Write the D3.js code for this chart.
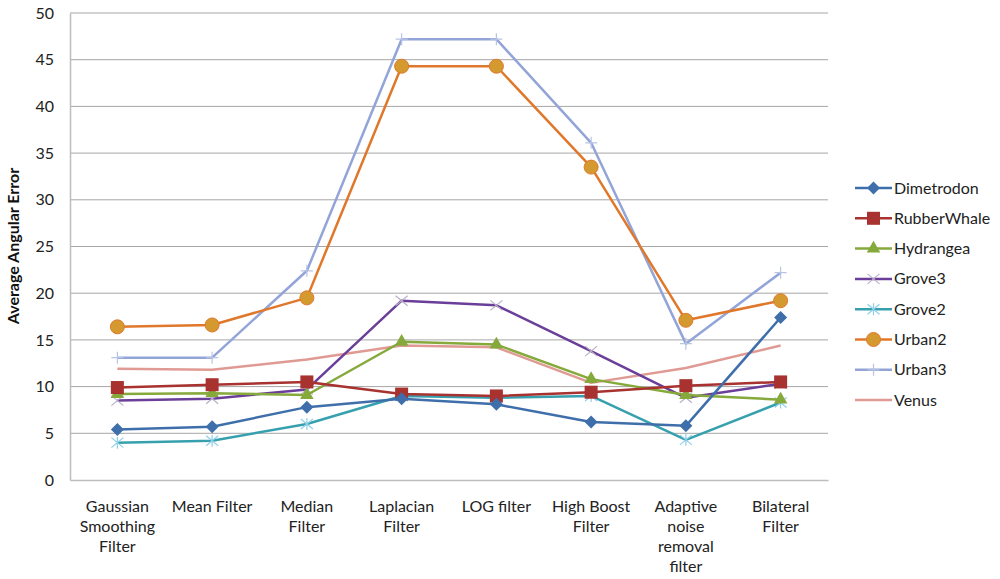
<!DOCTYPE html>
<html>
<head>
<meta charset="utf-8">
<script src="https://cdn.jsdelivr.net/npm/d3@7"></script>
<style>
  body { margin: 0; background: #fff; }
  svg { font-family: Lato, "Open Sans", sans-serif; }
</style>
</head>
<body>
<div id="chart"></div>
<script>
// Categorías del eje X (filtros)
const categories = ["Gaussian Smoothing Filter", "Mean Filter", "Median Filter", "Laplacian Filter",
  "LOG filter", "High Boost Filter", "Adaptive noise removal filter", "Bilateral Filter"];

// Líneas de texto de cada etiqueta del eje X
const categoryLines = [
  ["Gaussian", "Smoothing", "Filter"],
  ["Mean Filter"],
  ["Median", "Filter"],
  ["Laplacian", "Filter"],
  ["LOG filter"],
  ["High Boost", "Filter"],
  ["Adaptive", "noise", "removal", "filter"],
  ["Bilateral", "Filter"]
];

const seriesNames = ["Dimetrodon", "RubberWhale", "Hydrangea", "Grove3", "Grove2", "Urban2", "Urban3", "Venus"];

// Valores
const dimetrodon  = [5.4, 5.7, 7.8, 8.7, 8.1, 6.2, 5.8, 17.4];
const rubberWhale = [9.9, 10.2, 10.5, 9.2, 9.0, 9.4, 10.1, 10.5];
const hydrangea   = [9.2, 9.3, 9.1, 14.8, 14.5, 10.8, 9.1, 8.6];
const grove3      = [8.5, 8.7, 9.7, 19.2, 18.7, 13.8, 8.8, 10.3];
const grove2      = [4.0, 4.2, 6.0, 9.0, 8.8, 9.0, 4.3, 8.3];
const urban2      = [16.4, 16.6, 19.5, 44.3, 44.3, 33.5, 17.1, 19.2];
const urban3      = [13.1, 13.1, 22.4, 47.2, 47.2, 36.1, 14.6, 22.2];
const venus       = [11.9, 11.8, 12.9, 14.4, 14.2, 10.4, 12.0, 14.4];

const yTicks = [0, 5, 10, 15, 20, 25, 30, 35, 40, 45, 50];

// Estilo de cada serie
const styles = [
  { color: "#3F6FAA", marker: "diamond", mfill: "#3F6FAA" },
  { color: "#A8322F", marker: "square", mfill: "#A8322F" },
  { color: "#86A93C", marker: "triangle", mfill: "#86A93C" },
  { color: "#6A3E99", marker: "x", mfill: "#B8B0C8" },
  { color: "#36A0AE", marker: "star", mfill: "#8FD0E8" },
  { color: "#E0782C", marker: "circle", mfill: "#D49A30" },
  { color: "#93A5D8", marker: "plus", mfill: "#B7C4E4" },
  { color: "#E09A94", marker: "none", mfill: "#E09A94" }
];

const seriesValues = [dimetrodon, rubberWhale, hydrangea, grove3, grove2, urban2, urban3, venus];
const series = seriesNames.map((name, i) => ({ name, values: seriesValues[i], style: styles[i] }));

const W = 1000, H = 579;
const plotLeft = 70, plotRight = 828, plotTop = 13, plotBottom = 480;

const svg = d3.select("#chart").append("svg")
  .attr("width", W).attr("height", H);

const x = d3.scaleBand().domain(categories).range([plotLeft, plotRight]);
const y = d3.scaleLinear().domain([0, 50]).range([plotBottom, plotTop]);
const cx = c => x(c) + x.bandwidth() / 2;

// Líneas de la cuadrícula
svg.append("g")
  .selectAll("line")
  .data(yTicks.filter(t => t > 0))
  .enter().append("line")
  .attr("x1", plotLeft).attr("x2", plotRight)
  .attr("y1", d => y(d)).attr("y2", d => y(d))
  .attr("stroke", "#A6A6A6").attr("stroke-width", 1);

// Eje Y
const yAxis = svg.append("g")
  .attr("transform", `translate(${plotLeft},0)`)
  .call(d3.axisLeft(y).tickValues(yTicks).tickSize(0).tickPadding(16));
yAxis.select(".domain").attr("stroke", "#BDBDBD").attr("stroke-width", 1.5);
yAxis.selectAll("text").attr("font-size", "16px").attr("fill", "#222")
  .attr("font-family", "Lato, sans-serif");

// Eje X
const xAxis = svg.append("g")
  .attr("transform", `translate(0,${plotBottom})`)
  .call(d3.axisBottom(x).tickSize(0).tickFormat(""));
xAxis.select(".domain").attr("stroke", "#BDBDBD").attr("stroke-width", 1.5);

// Etiquetas multilínea del eje X
categories.forEach((c, i) => {
  const t = svg.append("text")
    .attr("text-anchor", "middle")
    .attr("font-size", "16px")
    .attr("fill", "#222")
    .attr("x", cx(c))
    .attr("y", 512);
  categoryLines[i].forEach((line, j) => {
    t.append("tspan").attr("x", cx(c)).attr("dy", j === 0 ? 0 : 20).text(line);
  });
});

// Título del eje Y
svg.append("text")
  .attr("text-anchor", "middle")
  .attr("font-size", "16px")
  .attr("font-weight", "bold")
  .attr("fill", "#111")
  .attr("transform", `translate(19,246) rotate(-90)`)
  .text("Average Angular Error");

// Dibujar un marcador
function drawMarker(g, type, px, py, st) {
  if (type === "diamond") {
    g.append("path").attr("d", `M${px},${py - 6.5}L${px + 6.5},${py}L${px},${py + 6.5}L${px - 6.5},${py}Z`)
      .attr("fill", st.mfill);
  } else if (type === "square") {
    g.append("rect").attr("x", px - 6.5).attr("y", py - 6.5).attr("width", 13).attr("height", 13)
      .attr("fill", st.mfill);
  } else if (type === "triangle") {
    g.append("path").attr("d", d3.symbol(d3.symbolTriangle, 80)())
      .attr("transform", `translate(${px},${py})`).attr("fill", st.mfill);
  } else if (type === "circle") {
    g.append("circle").attr("cx", px).attr("cy", py).attr("r", 7)
      .attr("fill", st.mfill).attr("stroke", st.color).attr("stroke-width", 1);
  } else if (type === "x") {
    g.append("path").attr("d", `M${px - 6},${py - 5}L${px + 6},${py + 5}M${px - 6},${py + 5}L${px + 6},${py - 5}`)
      .attr("stroke", st.mfill).attr("stroke-width", 1.2);
  } else if (type === "star") {
    g.append("path").attr("d", `M${px - 6},${py - 5}L${px + 6},${py + 5}M${px - 6},${py + 5}L${px + 6},${py - 5}M${px},${py - 6}L${px},${py + 6}`)
      .attr("stroke", st.mfill).attr("stroke-width", 1.2);
  } else if (type === "plus") {
    g.append("path").attr("d", `M${px - 6},${py}L${px + 6},${py}M${px},${py - 6}L${px},${py + 6}`)
      .attr("stroke", st.mfill).attr("stroke-width", 1.2);
  }
}

const line = d3.line()
  .x((d, i) => cx(categories[i]))
  .y(d => y(d));

// Series (la última dibujada queda encima)
const order = [7, 6, 5, 4, 3, 2, 1, 0];
order.forEach(k => {
  const s = series[k];
  const g = svg.append("g");
  g.append("path")
    .attr("d", line(s.values))
    .attr("fill", "none")
    .attr("stroke", s.style.color)
    .attr("stroke-width", 2.5)
    .attr("stroke-linejoin", "round");
  s.values.forEach((v, i) => drawMarker(g, s.style.marker, cx(categories[i]), y(v), s.style));
});

// Leyenda
const legend = svg.append("g");
series.forEach((s, i) => {
  const ly = 188 + i * 30.3;
  const g = legend.append("g");
  g.append("line")
    .attr("x1", 855).attr("x2", 892).attr("y1", ly).attr("y2", ly)
    .attr("stroke", s.style.color).attr("stroke-width", 2.5);
  drawMarker(g, s.style.marker, 873.5, ly, s.style);
  g.append("text")
    .attr("x", 894).attr("y", ly + 5.5)
    .attr("font-size", "16px")
    .attr("fill", "#222")
    .text(s.name);
});
</script>
</body>
</html>
